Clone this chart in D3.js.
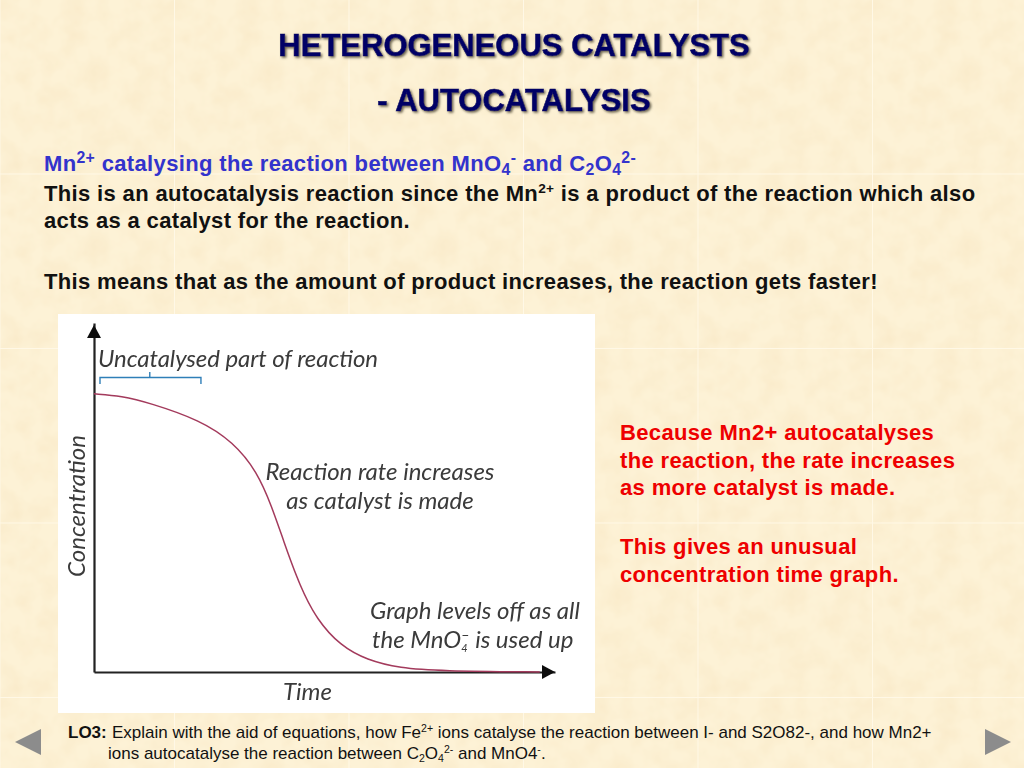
<!DOCTYPE html>
<html>
<head>
<meta charset="utf-8">
<script src="https://cdn.jsdelivr.net/npm/d3@7"></script>
<style>
  html, body { margin: 0; padding: 0; background: #fbeecd; overflow: hidden; }
  svg { display: block; }
  text { font-family: "Liberation Sans", Arial, sans-serif; }
  .hand { font-family: "Lato", "Open Sans", sans-serif; font-style: italic; fill: #3a3a3a; }
</style>
</head>
<body>
<svg id="slide" width="1024" height="768"></svg>
<script>
// curve, time and concentration in percent of the axes
const timeValues = [0, 6, 12.1, 23, 30.2, 35.4, 38.6, 41, 44.7, 48.4, 53.4, 59.2, 66.4, 75, 96.7];
const concValues = [79.7, 79.1, 77.1, 72.2, 65.9, 57.4, 47.3, 38, 24.4, 14.9, 7.6, 3.4, 1.1, 0.3, 0];

const titleLines = ["HETEROGENEOUS CATALYSTS", "- AUTOCATALYSIS"];
const blueLine = [["Mn"], ["2+", "sup"], [" catalysing the reaction between MnO"], ["4", "sub"], ["-", "sup"], [" and C"], ["2", "sub"], ["O"], ["4", "sub"], ["2-", "sup"]];
const blackLine1 = [["This is an autocatalysis reaction since the Mn"], ["2+", "sup"], [" is a product of the reaction which also"]];
const blackLine2 = [["acts as a catalyst for the reaction."]];
const blackLine3 = [["This means that as the amount of product increases, the reaction gets faster!"]];
const redLines = ["Because Mn2+ autocatalyses", "the reaction, the rate increases", "as more catalyst is made."];
const redLines2 = ["This gives an unusual", "concentration time graph."];
const footLine1 = [["Explain with the aid of equations, how Fe"], ["2+", "sup"], [" ions catalyse the reaction between I- and S2O82-, and how Mn2+"]];
const footLine2 = [["ions autocatalyse the reaction between C"], ["2", "sub"], ["O"], ["4", "sub"], ["2-", "sup"], [" and MnO4"], ["-", "sup"], ["."]];

const svg = d3.select("#slide");
const defs = svg.append("defs");

// parchment tile
const tileSize = 174.5;
const tile = defs.append("pattern").attr("id", "tile").attr("patternUnits", "userSpaceOnUse")
  .attr("width", tileSize).attr("height", tileSize).attr("x", -0.5).attr("y", -1);
const noise = defs.append("filter").attr("id", "mottle").attr("x", 0).attr("y", 0).attr("width", 1).attr("height", 1);
noise.append("feTurbulence").attr("type", "fractalNoise").attr("baseFrequency", 0.045).attr("numOctaves", 3).attr("seed", 4).attr("stitchTiles", "stitch");
noise.append("feColorMatrix").attr("type", "matrix")
  .attr("values", "0 0 0 0 0.95  0 0 0 0 0.82  0 0 0 0 0.58  1.4 0 0 0 -0.48");
tile.append("rect").attr("width", tileSize).attr("height", tileSize).attr("fill", "#fdf2d6");
tile.append("rect").attr("width", tileSize).attr("height", tileSize).attr("filter", "url(#mottle)");
tile.append("path").attr("d", `M0.5 0V${tileSize}M0 0.5H${tileSize}`).attr("stroke", "#fff8e6").attr("stroke-width", 1).attr("fill", "none");
svg.append("rect").attr("width", 1024).attr("height", 768).attr("fill", "url(#tile)");

const shadow = defs.append("filter").attr("id", "titleShadow").attr("x", -0.05).attr("y", -0.2).attr("width", 1.1).attr("height", 1.5);
shadow.append("feDropShadow").attr("dx", 1.5).attr("dy", 1.5).attr("stdDeviation", 0.8).attr("flood-color", "#6b6350");

const soft = defs.append("filter").attr("id", "soft");
soft.append("feGaussianBlur").attr("stdDeviation", 0.35);

// rich line helper, sup and sub are one-off shifts
function richLine(x, y, parts, size, weight, color, spacing, ratio) {
  const t = svg.append("text").attr("x", x).attr("y", y)
    .attr("font-size", size).attr("font-weight", weight).attr("fill", color)
    .attr("letter-spacing", spacing || 0);
  let shift = 0;
  parts.forEach(([str, kind]) => {
    const target = kind === "sup" ? -0.36 * size : kind === "sub" ? 0.2 * size : 0;
    t.append("tspan").attr("dy", target - shift)
      .attr("font-size", kind ? size * (ratio || 0.62) : size)
      .text(str);
    shift = target;
  });
  return t;
}

// title
titleLines.forEach((line, i) => {
  svg.append("text").attr("x", 514).attr("y", [56, 111][i])
    .attr("text-anchor", "middle").attr("font-size", 31).attr("font-weight", "bold")
    .attr("fill", "#000066").attr("stroke", "#000066").attr("stroke-width", 0.6)
    .attr("filter", "url(#titleShadow)").text(line);
});

// intro text
const bodySize = 22, bodySpacing = 0.35;
richLine(44, 171, blueLine, bodySize, "bold", "#3333cc", bodySpacing, 0.72);
richLine(44, 201, blackLine1, bodySize, "bold", "#111", bodySpacing);
richLine(44, 228, blackLine2, bodySize, "bold", "#111", bodySpacing);
richLine(44, 289, blackLine3, bodySize, "bold", "#111", bodySpacing);

// side notes
redLines.forEach((line, i) => {
  svg.append("text").attr("x", 620).attr("y", 440 + i * 27.5)
    .attr("font-size", bodySize).attr("font-weight", "bold").attr("letter-spacing", bodySpacing).attr("fill", "#ee0000").text(line);
});
redLines2.forEach((line, i) => {
  svg.append("text").attr("x", 620).attr("y", 554 + i * 27.5)
    .attr("font-size", bodySize).attr("font-weight", "bold").attr("letter-spacing", bodySpacing).attr("fill", "#ee0000").text(line);
});

// graph picture
svg.append("rect").attr("x", 58).attr("y", 314).attr("width", 537).attr("height", 399).attr("fill", "#fff");

const x = d3.scaleLinear().domain([0, 100]).range([94, 555]);
const y = d3.scaleLinear().domain([0, 100]).range([672, 323]);

const chart = svg.append("g").attr("filter", "url(#soft)");

const xAxis = d3.axisBottom(x).tickValues([]).tickSize(0);
const yAxis = d3.axisLeft(y).tickValues([]).tickSize(0);
const gx = chart.append("g").attr("transform", `translate(0,${y(0)})`).call(xAxis);
const gy = chart.append("g").attr("transform", `translate(${x(0)},0)`).call(yAxis);
gx.select(".domain").attr("stroke", "#222").attr("stroke-width", 2.2);
gy.select(".domain").attr("stroke", "#222").attr("stroke-width", 2.2);

// arrow heads
chart.append("path").attr("fill", "#111")
  .attr("d", d3.line()([[x(0), y(99.4)], [x(0) + 7, y(99.4) + 13], [x(0) - 7, y(99.4) + 13]]));
chart.append("path").attr("fill", "#111")
  .attr("d", d3.line()([[x(100), y(0)], [x(100) - 13, y(0) - 7], [x(100) - 13, y(0) + 7]]));

const curve = d3.line().x(d => x(d[0])).y(d => y(d[1])).curve(d3.curveBasis);
chart.append("path").datum(d3.zip(timeValues, concValues))
  .attr("d", curve).attr("fill", "none").attr("stroke", "#a33a5c").attr("stroke-width", 1.5);

// bracket over the flat start
const bx0 = x(1.3), bx1 = x(23.2), bxm = x(12.1);
chart.append("path").attr("fill", "none").attr("stroke", "#2f7fb8").attr("stroke-width", 1.4)
  .attr("d", `M${bx0} 384V377.5H${bx1}V384M${bxm} 377.5V372`);

// hand labels
const handSize = 24;
function hand(xp, yp, str, anchor) {
  return chart.append("text").attr("class", "hand").attr("x", xp).attr("y", yp)
    .attr("text-anchor", anchor || "start").attr("font-size", handSize).text(str);
}
hand(98, 367, "Uncatalysed part of reaction").attr("textLength", 280);
hand(380, 480, "Reaction rate increases", "middle");
hand(380, 509, "as catalyst is made", "middle");
hand(475, 619, "Graph levels off as all", "middle");
// MnO4 with the charge stacked over the subscript
const mno = hand(372, 648, "the MnO");
mno.append("tspan").attr("font-size", 11).attr("dy", 4).text("4");
mno.append("tspan").attr("font-size", 13).attr("dx", -6).attr("dy", -12).text("\u2212");
mno.append("tspan").attr("dx", 6).attr("dy", 8).text("is used up");
hand(283, 700, "Time");
chart.append("text").attr("class", "hand").attr("transform", "translate(85,506) rotate(-90)")
  .attr("text-anchor", "middle").attr("font-size", handSize).text("Concentration");

// footer
const footSize = 17;
svg.append("text").attr("x", 68).attr("y", 738).attr("font-size", footSize).attr("font-weight", "bold").attr("fill", "#111").text("LO3:");
richLine(112, 738, footLine1, footSize, "normal", "#111");
richLine(108, 759, footLine2, footSize, "normal", "#111");

// nav arrows
svg.append("path").attr("fill", "#8c8c8c").attr("d", d3.line()([[15, 742], [41, 729], [41, 755]]));
svg.append("path").attr("fill", "#8c8c8c").attr("d", d3.line()([[1011, 742], [985, 729], [985, 755]]));
</script>
</body>
</html>
